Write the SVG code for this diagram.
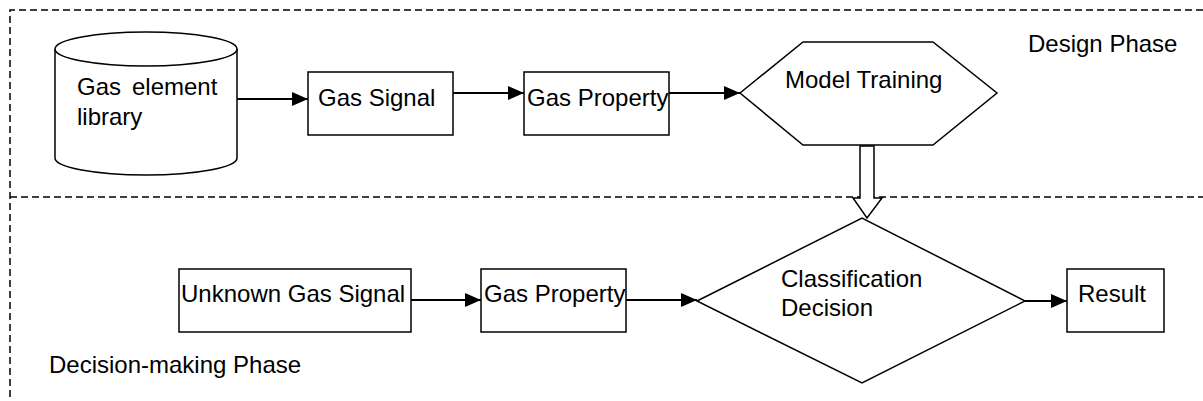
<svg xmlns="http://www.w3.org/2000/svg" width="1203" height="401" viewBox="0 0 1203 401">
<style>
  .shape{fill:#fff;stroke:#000;stroke-width:1.5}
  .dash{fill:none;stroke:#000;stroke-width:1.5;stroke-dasharray:7 4}
  .conn{fill:none;stroke:#000;stroke-width:2}
  text{font-family:"Liberation Sans",Arial,sans-serif;font-size:24px;fill:#000}
</style>
<defs>
  <marker id="arr" viewBox="0 0 16 14" refX="16" refY="7" markerWidth="16" markerHeight="14" markerUnits="userSpaceOnUse" orient="auto">
    <path d="M0,0 L16,7 L0,14 Z" fill="#000"/>
  </marker>
</defs>
<g id="frame">
  <path class="dash" d="M1203,10 H10 V401"/>
  <path class="dash" d="M10,197 H1203"/>
</g>
<g id="design-label"><text x="1028" y="52">Design Phase</text></g>
<g id="decision-label"><text x="49" y="373">Decision-making Phase</text></g>
<g id="library">
  <path class="shape" d="M55,49 V158 A91,17 0 0 0 237,158 V49 A91,17 0 0 0 55,49 Z"/>
  <path class="shape" d="M55,49 A91,17 0 0 0 237,49" fill="none"/>
  <text x="77" y="95">Gas <tspan x="132">element</tspan></text>
  <text x="77" y="125">library</text>
</g>
<g id="gas-signal">
  <rect class="shape" x="308" y="72" width="145" height="63"/>
  <text x="318" y="106">Gas Signal</text>
</g>
<g id="gas-property-1">
  <rect class="shape" x="524" y="72" width="145" height="63"/>
  <text x="527" y="106">Gas Property</text>
</g>
<g id="model-training">
  <polygon class="shape" points="740,93 803,42 933,42 997,93 933,145 803,145"/>
  <text x="785" y="88">Model Training</text>
</g>
<g id="unknown-signal">
  <rect class="shape" x="179" y="269" width="232" height="63"/>
  <text x="181" y="302">Unknown Gas Signal</text>
</g>
<g id="gas-property-2">
  <rect class="shape" x="481" y="269" width="145" height="63"/>
  <text x="484" y="302">Gas Property</text>
</g>
<g id="classification">
  <polygon class="shape" points="697,301 862,218 1025,301 862,383"/>
  <text x="781" y="287">Classification</text>
  <text x="781" y="316">Decision</text>
</g>
<g id="result">
  <rect class="shape" x="1067" y="269" width="97" height="63"/>
  <text x="1078" y="302">Result</text>
</g>
<g id="connectors">
  <line class="conn" x1="237" y1="99" x2="308" y2="99" marker-end="url(#arr)"/>
  <line class="conn" x1="453" y1="93" x2="524" y2="93" marker-end="url(#arr)"/>
  <line class="conn" x1="669" y1="93" x2="740" y2="93" marker-end="url(#arr)"/>
  <line class="conn" x1="411" y1="300" x2="481" y2="300" marker-end="url(#arr)"/>
  <line class="conn" x1="626" y1="300" x2="697" y2="300" marker-end="url(#arr)"/>
  <line class="conn" x1="1025" y1="301" x2="1067" y2="301" marker-end="url(#arr)"/>
  <path class="shape" d="M860,146 H874 V198 H882 L867,218 L853,198 H860 Z"/>
</g>
</svg>
